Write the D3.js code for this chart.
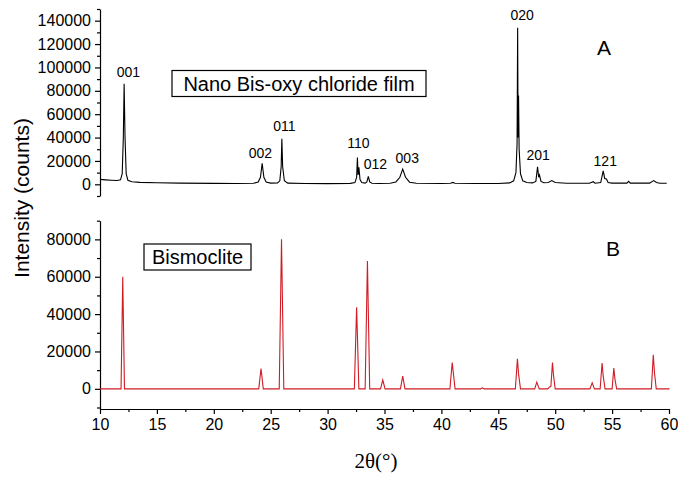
<!DOCTYPE html>
<html>
<head>
<meta charset="utf-8">
<script src="https://cdn.jsdelivr.net/npm/d3@7"></script>
<style>
  body { margin: 0; background: #fff; }
  svg { display: block; font-family: "Liberation Sans", Arial, sans-serif; }
  .axis path, .axis line { stroke: #000; stroke-width: 1.2; }
  .axis text { font-size: 16px; fill: #000; }
</style>
</head>
<body>
<svg id="chart" width="678" height="478"></svg>
<script>
// measured film pattern [2theta, counts]
var filmPattern = [
  [10.0, 4200], [10.5, 3800], [11.0, 3500], [11.5, 3300], [11.8, 3800], [11.95, 9000],
  [12.05, 40000], [12.12, 86000], [12.2, 40000], [12.3, 9000], [12.45, 3500], [12.8, 2200],
  [13.5, 1700], [15, 1300], [17, 1000], [20, 800], [22, 700], [23.5, 900], [23.9, 2000],
  [24.1, 6000], [24.25, 18000], [24.4, 6000], [24.6, 2000], [25.0, 1000], [25.6, 1200],
  [25.8, 3000], [25.92, 15000], [25.98, 39000], [26.05, 15000], [26.2, 3000], [26.5, 1000],
  [28, 700], [30, 600], [32, 800], [32.4, 1500], [32.55, 6000], [32.62, 23000], [32.68, 8000],
  [32.75, 14500], [32.85, 4000], [33.0, 1500], [33.3, 1000], [33.45, 2000], [33.58, 6800],
  [33.7, 2000], [33.9, 900], [34.5, 700], [35.5, 900], [36.0, 2000], [36.35, 6000],
  [36.6, 13000], [36.85, 6000], [37.2, 1800], [37.8, 900], [40, 700], [40.8, 900],
  [41.0, 1600], [41.2, 900], [43, 700], [45, 700], [46.0, 1200], [46.35, 3000],
  [46.55, 10000], [46.65, 35000], [46.7, 134000], [46.74, 40000], [46.78, 76000],
  [46.83, 30000], [46.95, 9000], [47.15, 3000], [47.5, 1500], [48.0, 1200], [48.3, 2500],
  [48.45, 15000], [48.55, 6000], [48.62, 8000], [48.75, 2500], [49.0, 1400], [49.4, 1500],
  [49.7, 3200], [50.0, 1500], [51, 900], [53, 900], [53.35, 2200], [53.5, 900], [54.0, 1500],
  [54.22, 11500], [54.35, 5000], [54.5, 4500], [54.65, 1500], [55, 1000], [56.3, 1000],
  [56.45, 2600], [56.6, 1000], [58.3, 1000], [58.65, 3200], [58.9, 1500], [59.2, 900],
  [59.8, 900]
];

// reference bismoclite pattern [2theta, counts]
var refPattern = [
  [10, 0], [11.85, 0], [12.0, 60000], [12.15, 0],
  [23.95, 0], [24.15, 10900], [24.35, 0],
  [25.75, 0], [25.95, 80000], [26.15, 0],
  [32.35, 0], [32.55, 43600], [32.75, 0],
  [33.3, 0], [33.5, 68400], [33.7, 0],
  [34.65, 0], [34.85, 4700], [35.05, 0],
  [36.4, 0], [36.6, 6800], [36.8, 0],
  [40.75, 0], [40.95, 14100], [41.2, 0],
  [43.45, 0], [43.6, 500], [43.75, 0],
  [46.5, 0], [46.68, 16100], [46.78, 8000], [46.95, 0],
  [48.2, 0], [48.38, 3600], [48.6, 0],
  [49.35, 0], [49.5, 1000], [49.62, 1200], [49.76, 14100], [49.85, 7300], [50.0, 0],
  [53.05, 0], [53.25, 3200], [53.45, 0],
  [53.95, 0], [54.12, 13800], [54.22, 6800], [54.38, 0],
  [55.0, 0], [55.15, 11100], [55.25, 5200], [55.4, 0],
  [58.45, 0], [58.62, 18200], [58.72, 8900], [58.88, 0],
  [60.05, 0]
];

var peakLabels = ['001', '002', '011', '110', '012', '003', '020', '201', '121'];
var peakLabelX = [12.5, 24.1, 26.2, 32.7, 34.2, 37.0, 47.1, 48.5, 54.4];
var peakLabelY = [92000, 22600, 45900, 31100, 13200, 18300, 140800, 20900, 16000];

var xTicks = [10, 15, 20, 25, 30, 35, 40, 45, 50, 55, 60];
var xMinor = [12.5, 17.5, 22.5, 27.5, 32.5, 37.5, 42.5, 47.5, 52.5, 57.5];
var topTicks = [0, 20000, 40000, 60000, 80000, 100000, 120000, 140000];
var topMinor = [-10000, 10000, 30000, 50000, 70000, 90000, 110000, 130000, 150000];
var botTicks = [0, 20000, 40000, 60000, 80000];
var botMinor = [-10000, 10000, 30000, 50000, 70000, 90000];

var svg = d3.select('#chart');

var x = d3.scaleLinear().domain([10, 60]).range([100, 669]);
var yTop = d3.scaleLinear().domain([-10000, 150000]).range([196, 9]);
var yBot = d3.scaleLinear().domain([-10800, 90000]).range([409, 220.7]);

function drawY(scale, majors, minors) {
  var g = svg.append('g').attr('class', 'axis').attr('transform', 'translate(100,0)');
  g.call(d3.axisLeft(scale).tickValues(majors).tickSize(5).tickSizeOuter(0)
    .tickFormat(d3.format('d')).tickPadding(4));
  var m = svg.append('g').attr('class', 'axis').attr('transform', 'translate(100,0)');
  m.call(d3.axisLeft(scale).tickValues(minors).tickSize(3).tickSizeOuter(0).tickFormat(''));
  m.select('.domain').remove();
}

drawY(yTop, topTicks, topMinor);
drawY(yBot, botTicks, botMinor);

var gx = svg.append('g').attr('class', 'axis').attr('transform', 'translate(0,409)');
gx.call(d3.axisBottom(x).tickValues(xTicks).tickSize(5).tickSizeOuter(0).tickPadding(5));
var gxm = svg.append('g').attr('class', 'axis').attr('transform', 'translate(0,409)');
gxm.call(d3.axisBottom(x).tickValues(xMinor).tickSize(3).tickSizeOuter(0).tickFormat(''));
gxm.select('.domain').remove();

var lineTop = d3.line().x(function(d) { return x(d[0]); }).y(function(d) { return yTop(d[1]); });
var lineBot = d3.line().x(function(d) { return x(d[0]); }).y(function(d) { return yBot(d[1]); });

svg.append('path').datum(filmPattern).attr('d', lineTop)
  .attr('fill', 'none').attr('stroke', '#000').attr('stroke-width', 1.1);
svg.append('path').datum(refPattern).attr('d', lineBot)
  .attr('fill', 'none').attr('stroke', '#d01c24').attr('stroke-width', 1.1);

svg.selectAll('text.peak').data(peakLabels).enter().append('text')
  .attr('class', 'peak')
  .attr('x', function(d, i) { return x(peakLabelX[i]); })
  .attr('y', function(d, i) { return yTop(peakLabelY[i]); })
  .attr('text-anchor', 'middle')
  .style('font-size', '14px')
  .text(function(d) { return d; });

// boxed sample names
function box(label, bx, by, bw, bh) {
  svg.append('rect').attr('x', bx).attr('y', by).attr('width', bw).attr('height', bh)
    .attr('fill', '#fff').attr('stroke', '#000').attr('stroke-width', 1.2);
  svg.append('text').attr('x', bx + bw / 2).attr('y', by + bh / 2 + 7)
    .attr('text-anchor', 'middle').style('font-size', '20px').text(label);
}
box('Nano Bis-oxy chloride film', 172, 70.5, 254, 26);
box('Bismoclite', 144, 244, 107, 26);

svg.append('text').attr('x', 604).attr('y', 55).attr('text-anchor', 'middle')
  .style('font-size', '21px').text('A');
svg.append('text').attr('x', 613).attr('y', 256).attr('text-anchor', 'middle')
  .style('font-size', '21px').text('B');

svg.append('text')
  .attr('transform', 'translate(29,198) rotate(-90)')
  .attr('text-anchor', 'middle')
  .style('font-size', '21px')
  .text('Intensity (counts)');

svg.append('text')
  .attr('x', 376).attr('y', 468)
  .attr('text-anchor', 'middle')
  .style('font-family', '"Liberation Serif", "Times New Roman", serif')
  .style('font-size', '21px')
  .text('2θ(°)');
</script>
</body>
</html>
